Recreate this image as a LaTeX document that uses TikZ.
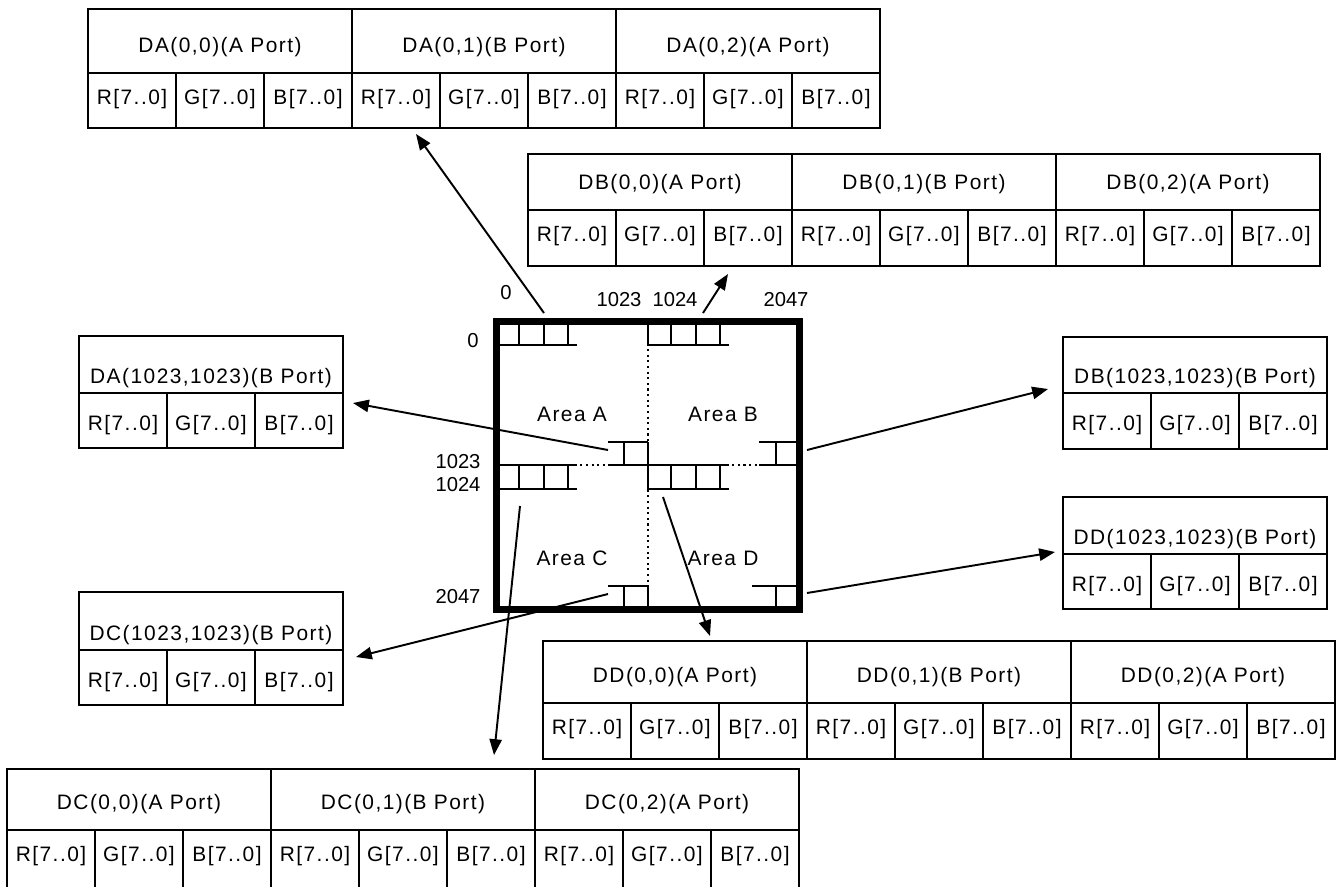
\documentclass[tikz,border=0pt]{standalone}
\usepackage{fontspec}
\setmainfont{Liberation Sans}[LetterSpace=7]
\newfontfamily\numfont{Liberation Sans}
\usetikzlibrary{arrows.meta}

% #1 name, #2 left, #3 top, #4 middle, #5 bottom
\newcommand{\bigtab}[5]{%
  \draw[tabline] (#2,#3) rectangle ({#2+792},#5);
  \draw[tabline] (#2,#4) -- ({#2+792},#4);
  \foreach \k/\p in {0/A,1/B,2/A}{
    \draw[tabline] ({#2+264*\k},#3) -- ({#2+264*\k},#4);
    \node[lbl] (#1-h\k) at ({#2+264*\k+132},{#4-26}) {#1(0,\k)(\p\ Port)};
    \foreach \c [count=\j from 0] in {R,G,B}{
      \draw[tabline] ({#2+264*\k+88*\j},#4) -- ({#2+264*\k+88*\j},#5);
      \node[lbl] (#1-c\k\j) at ({#2+264*\k+88*\j+44},{#4+26}) {\c[7..0]};
    }
  }
}
\newcommand{\smalltab}[5]{%
  \draw[tabline] (#2,#3) rectangle ({#2+264},#5);
  \draw[tabline] (#2,#4) -- ({#2+264},#4);
  \node[lbl] (#1-h) at ({#2+132},{#4-15}) {#1(1023,1023)(B Port)};
  \foreach \c [count=\j from 0] in {R,G,B}{
    \draw[tabline] ({#2+88*\j},#4) -- ({#2+88*\j},#5);
    \node[lbl] (#1-c\j) at ({#2+88*\j+44},{#4+32}) {\c[7..0]};
  }
}

\begin{document}
\begin{tikzpicture}[x=0.02cm,y=-0.02cm,
    tabline/.style={line width=1.1pt},
    lbl/.style={inner sep=0pt,font=\fontsize{11.9}{14}\selectfont},
    num/.style={inner sep=0pt,font=\numfont\fontsize{11.5}{13}\selectfont},
    reg/.style={line width=1.2pt},
    ptr/.style={line width=1.1pt,-{Triangle[length=9pt,width=7pt]}}]
\useasboundingbox (0,0) rectangle (1344,886);

% data tables
\bigtab{DA}{88}{9}{73}{128}
\bigtab{DB}{528}{154}{210}{266}
\bigtab{DD}{543}{641}{703}{759}
\bigtab{DC}{7}{769}{830}{892}
\smalltab{DA}{79}{336}{393}{448}
\smalltab{DB}{1063}{337}{393}{449}
\smalltab{DD}{1063}{497}{554}{609}
\smalltab{DC}{79}{592}{650}{705}

% frame dividers
\draw[reg,dotted] (648,321) -- (648,610);
\draw[reg,dotted] (496,465) -- (800,465);

% register rows at the start of each area
\foreach \x/\y in {496/321,648/321,496/465,648/465}{
  \draw[reg] (\x,\y) -- (\x,{\y+24}) -- ({\x+81},{\y+24});
  \draw[reg] (\x,\y) -- ({\x+81},\y);
  \foreach \t in {23,48,72}
    \draw[reg] ({\x+\t},\y) -- ({\x+\t},{\y+24});
}
% last register of each area
\draw[reg] (608,442) -- (648,442) (624,442) -- (624,465) (608,465) -- (648,465) (648,442) -- (648,465);
\draw[reg] (759,442) -- (800,442) (776,442) -- (776,465) (759,465) -- (800,465);
\draw[reg] (608,586) -- (648,586) (624,586) -- (624,610) (648,586) -- (648,610);
\draw[reg] (752,586) -- (800,586) (776,586) -- (776,610);

\draw[line width=4pt] (496.5,321.5) rectangle (799.5,609.5);

\node[lbl] (areaA) at (572,414) {Area A};
\node[lbl] (areaB) at (723,414) {Area B};
\node[lbl] (areaC) at (572,558) {Area C};
\node[lbl] (areaD) at (723,558) {Area D};

\node[num] (x0) at (506,293) {0};
\node[num] (x1023) at (619,300) {1023};
\node[num] (x1024) at (675,300) {1024};
\node[num] (x2047) at (786,300) {2047};
\node[num] (y0) at (473,341) {0};
\node[num] (y1023) at (458,462) {1023};
\node[num] (y1024) at (458,485) {1024};
\node[num] (y2047) at (458,597) {2047};

% pointers
\coordinate (pa1) at (544,313);  \coordinate (ta1) at (416,134);
\coordinate (pb1) at (703,313);  \coordinate (tb1) at (728,274);
\coordinate (pa2) at (608,450);  \coordinate (ta2) at (353,403);
\coordinate (pb2) at (807,450);  \coordinate (tb2) at (1048,389);
\coordinate (pc2) at (608,594);  \coordinate (tc2) at (356,657);
\coordinate (pd2) at (807,593);  \coordinate (td2) at (1055,552);
\coordinate (pc1) at (520,506);  \coordinate (tc1) at (494,755);
\coordinate (pd1) at (663,497);  \coordinate (td1) at (710,636);
\foreach \a in {a1,b1,a2,b2,c2,d2,c1,d1}
  \draw[ptr] (p\a) -- (t\a);
\end{tikzpicture}
\end{document}
